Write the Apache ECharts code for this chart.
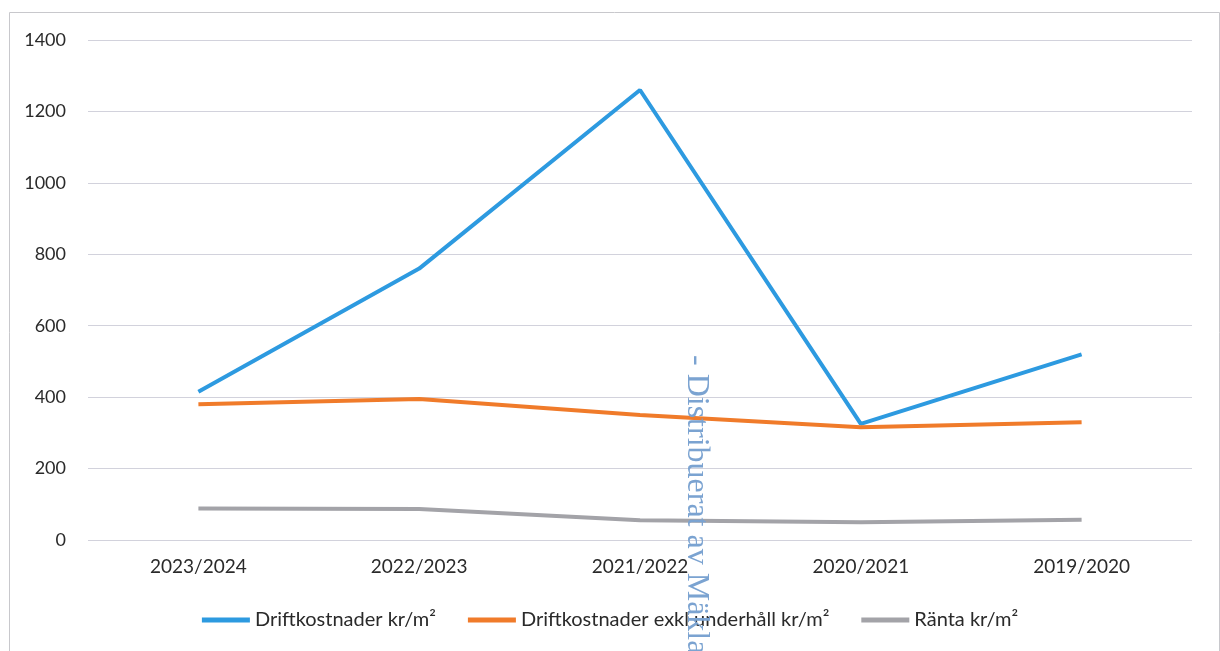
<!DOCTYPE html>
<html><head><meta charset="utf-8">
<script src="https://cdn.jsdelivr.net/npm/echarts@6/dist/echarts.min.js"></script>
<style>html,body{margin:0;padding:0;background:#fff}#c{width:1220px;height:651px}</style>
</head><body><div id="c"></div>
<script>
const categories = ['2023/2024','2022/2023','2021/2022','2020/2021','2019/2020'];
const drift = [415, 760, 1260, 325, 520];
const driftExkl = [380, 395, 350, 316, 330];
const ranta = [88, 87, 55, 50, 57];
const yTicks = [0, 200, 400, 600, 800, 1000, 1200, 1400];
const seriesNames = ['Driftkostnader kr/m²','Driftkostnader exkl underhåll kr/m²','Ränta kr/m²'];
const watermark = '- Distribuerat av Mäklarstatistik';

const chart = echarts.init(document.getElementById('c'));
const font = 'Lato, "Open Sans", sans-serif';
chart.setOption({
  animation:false,
  backgroundColor:'#fff',
  grid:{left:88,right:28,top:40,bottom:111},
  xAxis:{type:'category',data:categories,boundaryGap:true,
    axisLine:{show:false},axisTick:{show:false},
    axisLabel:{color:'#2a2a2a',fontSize:19,fontFamily:font,margin:17}},
  yAxis:{type:'value',min:yTicks[0],max:yTicks[yTicks.length-1],interval:200,
    axisLine:{show:false},axisTick:{show:false},
    axisLabel:{color:'#2a2a2a',fontSize:18,fontFamily:font,margin:22,formatter:v=>String(v)},
    splitLine:{lineStyle:{color:'#d2d2dc',width:1}}},
  legend:{bottom:16,left:'center',itemWidth:48,itemHeight:5,itemGap:32,icon:'rect',
    textStyle:{color:'#2a2a2a',fontSize:20,fontFamily:font},
    data:seriesNames},
  series:[
    {name:seriesNames[0],type:'line',data:drift,symbol:'none',lineStyle:{width:4,color:'#2d9ae0'},itemStyle:{color:'#2d9ae0'}},
    {name:seriesNames[1],type:'line',data:driftExkl,symbol:'none',lineStyle:{width:4,color:'#f07b2a'},itemStyle:{color:'#f07b2a'}},
    {name:seriesNames[2],type:'line',data:ranta,symbol:'none',lineStyle:{width:4,color:'#a3a3a8'},itemStyle:{color:'#a3a3a8'}}
  ],
  graphic:[
    {type:'rect',left:7,top:10,shape:{width:1210,height:660},style:{fill:'none',stroke:'#c8c8cc',lineWidth:1},silent:true},
    {type:'text',x:712,y:355,rotation:-Math.PI/2,style:{text:watermark,fill:'#7ba3d1',font:'32px "Liberation Serif", serif'},z:10,silent:true}
  ]
});
</script></body></html>
